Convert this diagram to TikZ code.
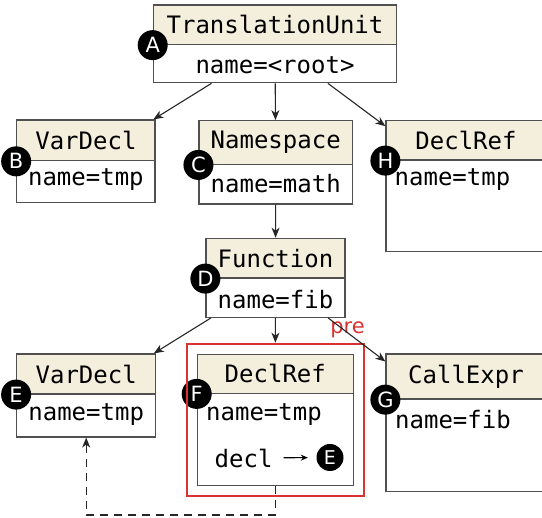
\documentclass[tikz,border=0pt]{standalone}
\usepackage{fontspec}
\usepackage{tikz}
\usetikzlibrary{arrows.meta,fit,positioning}
\newfontfamily\dvmono{DejaVu Sans Mono}
\newfontfamily\dvsans{DejaVu Sans}
\definecolor{headtan}{RGB}{244,239,221}
\definecolor{boxgray}{RGB}{80,80,80}
\definecolor{prered}{RGB}{218,50,50}
\begin{document}
\begin{tikzpicture}[x=1pt,y=-1pt]
\tikzstyle{box}=[draw=boxgray,line width=1.2pt,fill=white,inner sep=0pt]
\tikzstyle{hdr}=[draw=boxgray,line width=1.2pt,fill=headtan,inner sep=0pt,anchor=north,font=\dvmono\fontsize{24}{28}\selectfont]
\tikzstyle{field}=[inner sep=0pt,font=\dvmono\fontsize{24}{28}\selectfont]
\tikzstyle{badge}=[circle,fill=black,text=white,inner sep=0pt,minimum size=30pt,font=\dvsans\fontsize{21}{25}\selectfont]
\tikzstyle{link}=[draw=black!85,line width=1.1pt,-{Stealth[length=10pt,width=8pt,inset=3pt]}]
\tikzstyle{prebox}=[draw=prered,line width=2pt,inner sep=10pt]
\useasboundingbox (0,0) rectangle (542,518);
\clip (0,0) rectangle (542,518);
\path (275,43.9) node[box,minimum width=243.4pt,minimum height=77.7pt] (tu) {};
\path (tu.north) node[hdr,minimum width=243.4pt,minimum height=39.5pt] (tuhd) {TranslationUnit};
\path (275,65) node[field] (tun) {name=<root>};
\path (tuhd.south west) node[badge] (ba) {A};
\path (85.9,161.4) node[box,minimum width=138.3pt,minimum height=82.7pt] (var1) {};
\path (var1.north) node[hdr,minimum width=138.3pt,minimum height=40.7pt] (var1hd) {VarDecl};
\path (85.9,180) node[field] (var1n) {name=tmp};
\path (var1hd.south west) node[badge] (bb) {B};
\path (275.7,162.4) node[box,minimum width=153.3pt,minimum height=83.3pt] (ns) {};
\path (ns.north) node[hdr,minimum width=153.3pt,minimum height=43.6pt] (nshd) {Namespace};
\path (275.7,184) node[field] (nsn) {name=math};
\path (nshd.south west) node[badge] (bc) {C};
\path (466,186.2) node[box,minimum width=160pt,minimum height=131pt] (ref1) {};
\path (ref1.north) node[hdr,minimum width=160pt,minimum height=39.3pt] (ref1hd) {DeclRef};
\path (394.5,180) node[field,anchor=west] (ref1n) {name=tmp};
\path (ref1hd.south west) node[badge] (bh) {H};
\path (275.5,277.8) node[box,minimum width=139pt,minimum height=79pt] (fn) {};
\path (fn.north) node[hdr,minimum width=139pt,minimum height=39.7pt] (fnhd) {Function};
\path (275.5,300) node[field] (fnn) {name=fib};
\path (fnhd.south west) node[badge] (bd) {D};
\path (86.2,395.5) node[box,minimum width=139pt,minimum height=83pt] (var2) {};
\path (var2.north) node[hdr,minimum width=139pt,minimum height=40pt] (var2hd) {VarDecl};
\path (86.2,414.7) node[field] (var2n) {name=tmp};
\path (var2hd.south west) node[badge] (be) {E};
\path (275.3,420) node[box,minimum width=156pt,minimum height=131.4pt] (ref2) {};
\path (ref2.north) node[hdr,minimum width=156pt,minimum height=39pt] (ref2hd) {DeclRef};
\path (206,414.7) node[field,anchor=west] (ref2n) {name=tmp};
\path (214.5,458) node[field,anchor=west] (decl) {decl};
\path (330,457.5) node[badge,minimum size=27pt,font=\dvsans\fontsize{19}{23}\selectfont] (eref) {E};
\path (ref2hd.south west) node[badge] (bf) {F};
\path (466,422.9) node[box,minimum width=160pt,minimum height=137.7pt] (call) {};
\path (call.north) node[hdr,minimum width=160pt,minimum height=45pt] (callhd) {CallExpr};
\path (395,420) node[field,anchor=west] (calln) {name=fib};
\path (callhd.south west) node[badge] (bg) {G};
\node[prebox,fit=(ref2)] (pre) {};
\path (pre.north east) node[anchor=base east,yshift=9pt,inner sep=0pt,text=prered,font=\dvsans\fontsize{21}{25}\selectfont] (prelbl) {pre};
\coordinate (low) at (0,515);
\draw[link] (tu) -- (var1);
\draw[link] (tu) -- (ns);
\draw[link] (tu) -- (ref1);
\draw[link] (ns) -- (fn);
\draw[link] (fn) -- (var2);
\draw[link] (fn) -- (pre);
\draw[link] (fn) -- (call);
\draw[line width=1.1pt,-{Stealth[length=7pt,width=6pt]},shorten <=11pt,shorten >=8.5pt] (decl) -- (eref);
\draw[link,dash pattern=on 8pt off 6pt] (ref2.south) -- (ref2.south |- low) -| (var2.south);
\end{tikzpicture}
\end{document}
